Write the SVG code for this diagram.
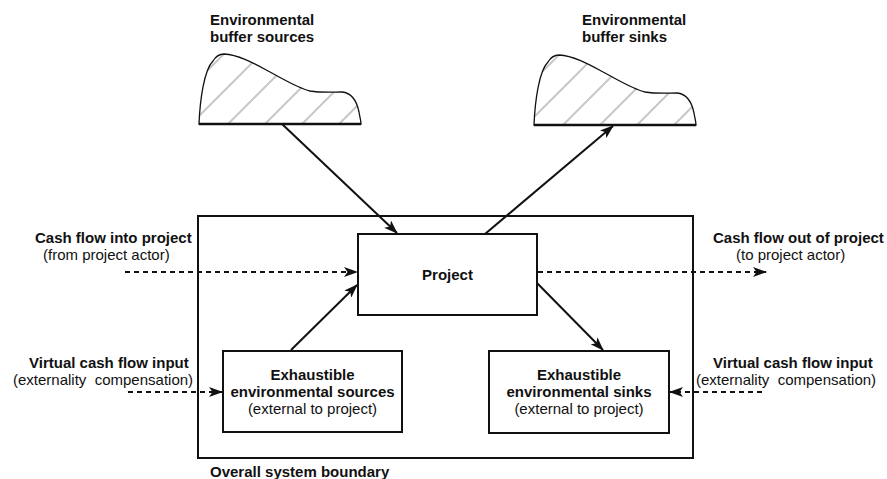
<svg xmlns="http://www.w3.org/2000/svg" xmlns:xlink="http://www.w3.org/1999/xlink" width="887" height="479" viewBox="0 0 887 479">
  <style>
    .box { fill: #fff; stroke: #111; stroke-width: 2; }
    .frame { fill: none; stroke: #111; stroke-width: 2; }
    .buffer { fill: url(#hatch); stroke: #111; stroke-width: 1.3; }
    .base { stroke: #111; stroke-width: 2.5; }
    .flow { fill: none; stroke: #111; stroke-width: 2; marker-end: url(#head); }
    .cash { fill: none; stroke: #111; stroke-width: 2; stroke-dasharray: 5 4; marker-end: url(#head); }
    text { font-family: "Liberation Sans", Arial, Helvetica, sans-serif; font-size: 15px; fill: #111; }
    .b { font-weight: bold; }
    .c { text-anchor: middle; }
  </style>
  <defs>
    <pattern id="hatch" patternUnits="userSpaceOnUse" x="-18" y="0" width="37" height="37">
      <path d="M-5,5 L5,-5 M0,37 L37,0 M32,42 L42,32" stroke="#c8c8c8" stroke-width="2"/>
    </pattern>
    <marker id="head" markerUnits="userSpaceOnUse" viewBox="0 0 14 10" refX="13" refY="5" markerWidth="14" markerHeight="10" orient="auto">
      <path d="M0,0 L14,5 L0,10 L3.5,5 Z" fill="#111"/>
    </marker>
    <!-- hill-shaped buffer outline, reused for sources and sinks -->
    <path id="hill" d="M199,124 C200,100 204,70 213,61 C216,56 219,54 224,54 C240,55 255,64 270,72 C285,80 298,88 310,91 C322,93 333,92 342,92 C352,93 357,102 359,112 C360,118 361,121 361,124 Z"/>
  </defs>

  <!-- overall system boundary -->
  <g id="boundary">
    <rect class="frame" x="198" y="216" width="495" height="242"/>
    <text class="b" x="210" y="477">Overall system boundary</text>
  </g>

  <!-- environmental buffer sources -->
  <g id="buffer-sources">
    <use xlink:href="#hill" class="buffer"/>
    <line class="base" x1="199" y1="124" x2="361" y2="124"/>
    <text class="b" x="210" y="25">Environmental</text>
    <text class="b" x="210" y="42">buffer sources</text>
  </g>

  <!-- environmental buffer sinks -->
  <g id="buffer-sinks">
    <g transform="translate(335,1)">
      <use xlink:href="#hill" class="buffer"/>
      <line class="base" x1="199" y1="124" x2="361" y2="124"/>
    </g>
    <text class="b" x="582" y="25">Environmental</text>
    <text class="b" x="582" y="42">buffer sinks</text>
  </g>

  <!-- project -->
  <g id="project">
    <rect class="box" x="358" y="234" width="179" height="81"/>
    <text class="b c" x="447.5" y="280">Project</text>
  </g>

  <!-- exhaustible environmental sources -->
  <g id="exhaustible-sources">
    <rect class="box" x="223" y="351" width="179" height="81"/>
    <text class="b c" x="312.5" y="380">Exhaustible</text>
    <text class="b c" x="312.5" y="397">environmental sources</text>
    <text class="c" x="312.5" y="414">(external to project)</text>
  </g>

  <!-- exhaustible environmental sinks -->
  <g id="exhaustible-sinks">
    <rect class="box" x="489" y="351" width="180" height="82"/>
    <text class="b c" x="579" y="380">Exhaustible</text>
    <text class="b c" x="579" y="397">environmental sinks</text>
    <text class="c" x="579" y="414">(external to project)</text>
  </g>

  <!-- cash flow labels -->
  <g id="cash-in">
    <text class="b" x="35" y="243">Cash flow into project</text>
    <text x="43" y="260">(from project actor)</text>
  </g>
  <g id="cash-out">
    <text class="b" x="713" y="243">Cash flow out of project</text>
    <text x="736" y="260">(to project actor)</text>
  </g>
  <g id="virtual-in-left">
    <text class="b" x="29" y="368">Virtual cash flow input</text>
    <text x="13" y="385" xml:space="preserve">(externality  compensation)</text>
  </g>
  <g id="virtual-in-right">
    <text class="b" x="713" y="368">Virtual cash flow input</text>
    <text x="696" y="385" xml:space="preserve">(externality  compensation)</text>
  </g>

  <!-- connectors -->
  <g id="connectors">
    <line class="flow" x1="282" y1="124" x2="397" y2="233"/>
    <line class="flow" x1="485" y1="234" x2="613" y2="126"/>
    <line class="flow" x1="291" y1="350" x2="357" y2="285"/>
    <line class="flow" x1="537" y1="283" x2="603" y2="350"/>
    <line class="cash" x1="125" y1="272" x2="357" y2="272"/>
    <line class="cash" x1="538" y1="272" x2="766" y2="272"/>
    <line class="cash" x1="128" y1="392" x2="222" y2="392"/>
    <line class="cash" x1="762" y1="392" x2="670" y2="392"/>
  </g>
</svg>
